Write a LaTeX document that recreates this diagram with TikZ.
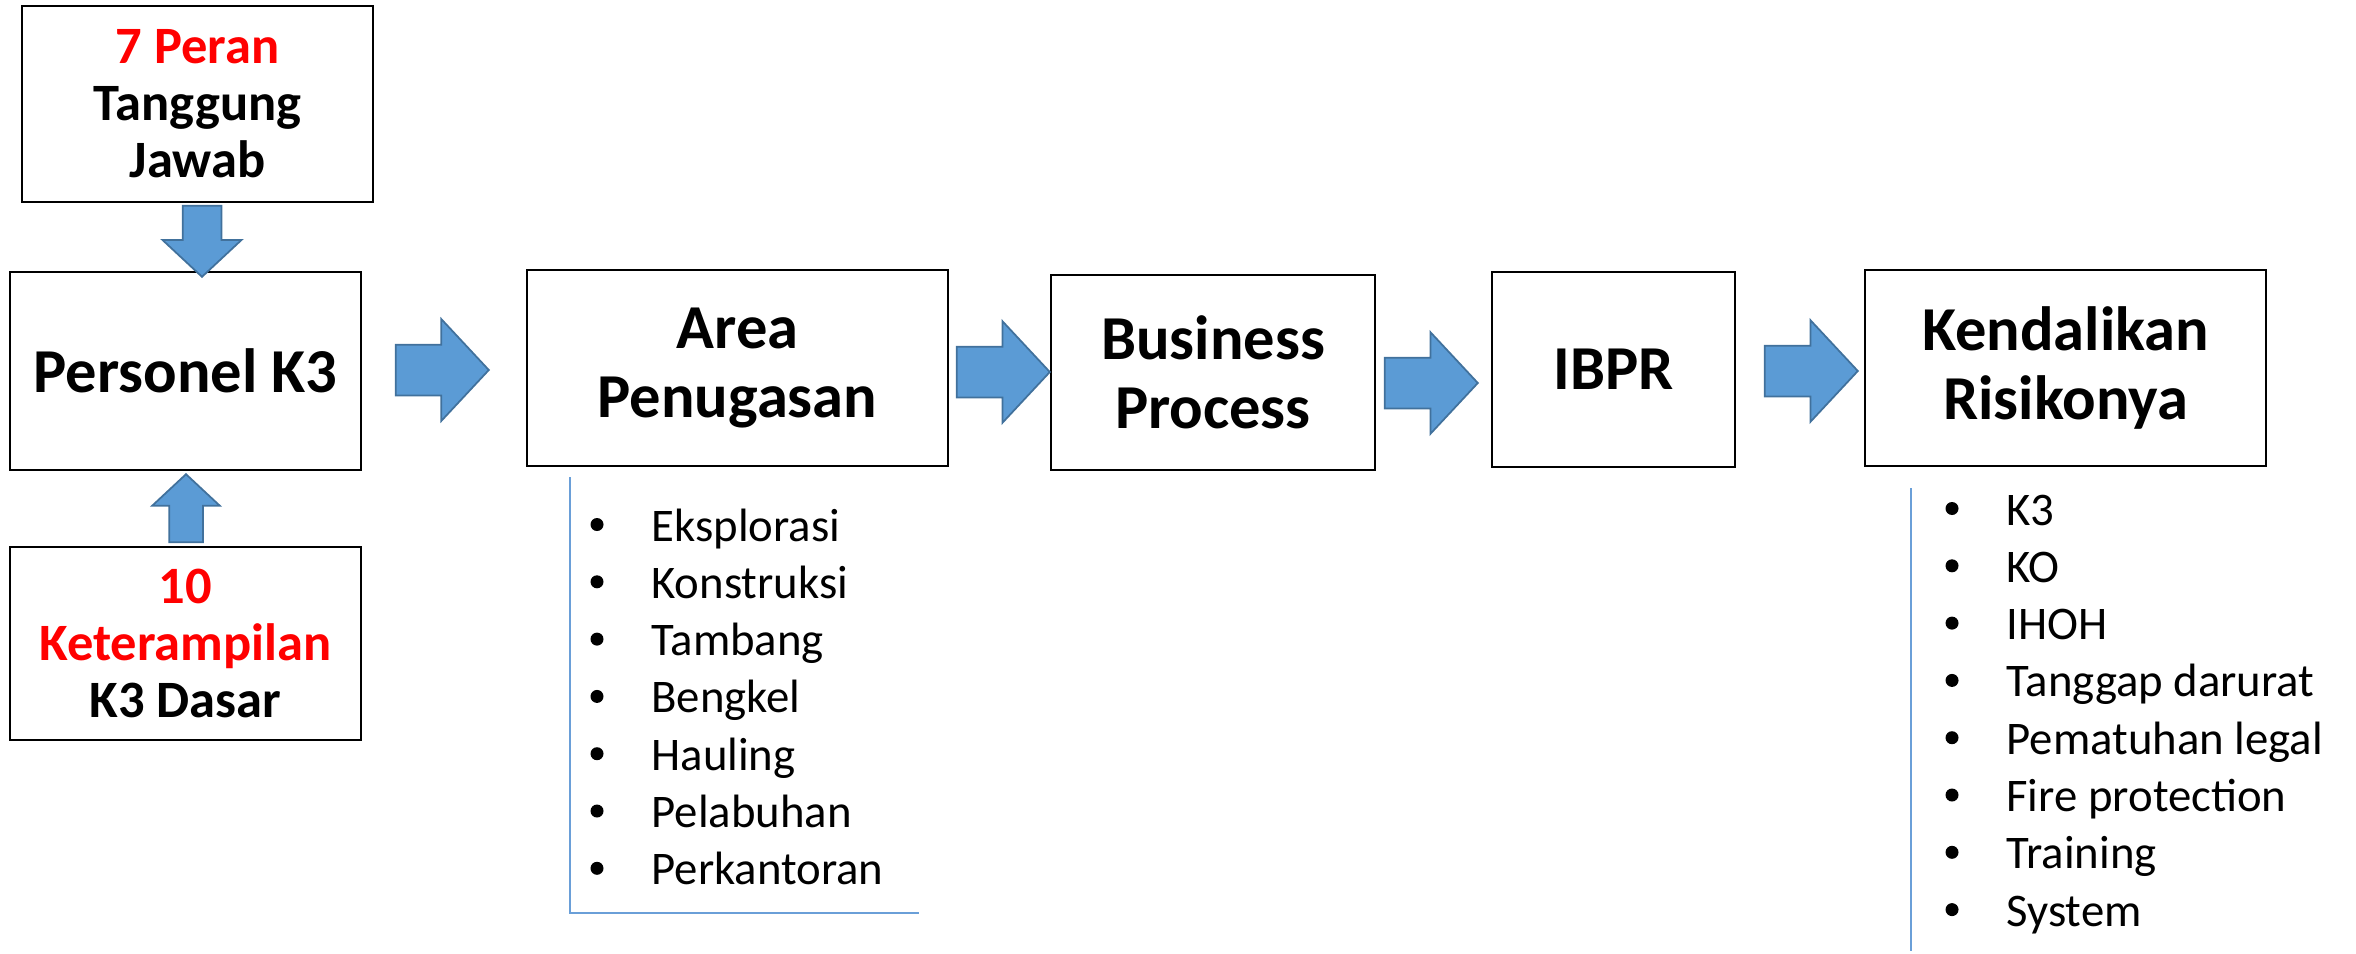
\documentclass[tikz,border=0pt]{standalone}
\usepackage{fontspec}
\setmainfont{Carlito}
\usetikzlibrary{shapes.arrows}
\definecolor{birupanah}{HTML}{5B9BD5}
\definecolor{tepipanah}{HTML}{41719C}
\definecolor{birugaris}{HTML}{6A9FD8}
\definecolor{merah}{HTML}{FF0000}

\begin{document}
\begin{tikzpicture}[x=0.4pt, y=-0.4pt]
        \tikzstyle{every node}=[inner sep=0pt]
        \tikzstyle{kotak}=[draw, line width=0.9pt, align=center, font=\fontsize{25}{27.6}\selectfont\bfseries]
        \tikzstyle{kotak kecil}=[kotak, font=\fontsize{21}{22.8}\selectfont\bfseries]
        \tikzstyle{panah}=[single arrow, fill=birupanah, draw=tepipanah, line width=0.7pt, anchor=tip, single arrow tip angle=94]
        \tikzstyle{panah kanan}=[panah, minimum height=37.2pt, inner xsep=0pt, inner ysep=9.8pt, single arrow head extend=10.2pt]
        \tikzstyle{daftar}=[font=\fontsize{18.7}{22.9}\selectfont, anchor=base west]
        \tikzstyle{titik}=[circle, fill, minimum size=5.2pt]
        \tikzstyle{garis}=[draw=birugaris, line width=0.6pt]
        \useasboundingbox (0,0) rectangle (2356,953);

        \node[kotak kecil, minimum width=140.4pt, minimum height=78.4pt] (tj) at (197.5,104) {\textcolor{merah}{7 Peran}\\Tanggung\\Jawab};
        \node[kotak, minimum width=140.4pt, minimum height=79.2pt] (pk) at (185.5,371) {Personel K3};
        \node[kotak kecil, minimum width=140.4pt, minimum height=77.2pt] (kd) at (185.5,643.5) {\textcolor{merah}{10}\\\textcolor{merah}{Keterampilan}\\K3 Dasar};
        \node[kotak, minimum width=168.4pt, minimum height=78.4pt] (ap) at (737.5,368) {Area\\Penugasan};
        \node[kotak, minimum width=129.6pt, minimum height=78pt] (bp) at (1213,372.5) {Business\\Process};
        \node[kotak, minimum width=97.2pt, minimum height=78pt] (ib) at (1613.5,369.5) {IBPR};
        \node[kotak, minimum width=160.4pt, minimum height=78.4pt] (kr) at (2065.5,368) {Kendalikan\\Risikonya};

        \node[panah, shape border rotate=270, minimum height=28.4pt, inner sep=7.4pt, single arrow head extend=8pt] (tj-pk) at (202,278) {};
        \node[panah, shape border rotate=90, minimum height=27.2pt, inner sep=6.4pt, single arrow head extend=6.8pt] (kd-pk) at (186,473) {};
        \node[panah kanan] (pk-ap) at (490,370) {};
        \node[panah kanan] (ap-bp) at (1051,372) {};
        \node[panah kanan] (bp-ib) at (1479,383) {};
        \node[panah kanan] (ib-kr) at (1859,371) {};

        \draw[garis] (570,477) -- (570,913) -- (919,913);
        \foreach \teks [count=\i] in {Eksplorasi,Konstruksi,Tambang,Bengkel,Hauling,Pelabuhan,Perkantoran}
        {
            \node[titik] (ta\i) at (597,{524.5+57.3*(\i-1)}) {};
            \node[daftar] (da\i) at (651,{541+57.3*(\i-1)}) {\teks};
        }

        \draw[garis] (1911,488) -- (1911,951);
        \foreach \teks [count=\i] in {K3,KO,IHOH,Tanggap darurat,Pematuhan legal,Fire protection,Training,System}
        {
            \node[titik] (tk\i) at (1952,{508.5+57.3*(\i-1)}) {};
            \node[daftar] (dk\i) at (2006,{525+57.3*(\i-1)}) {\teks};
        }
    \end{tikzpicture}
\end{document}
